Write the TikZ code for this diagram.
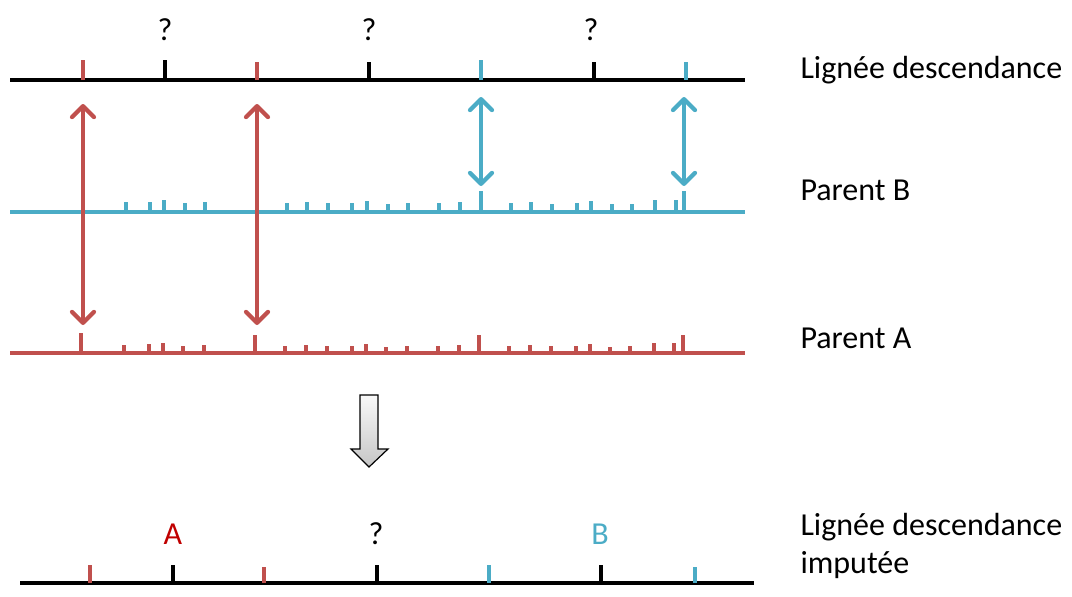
\documentclass[tikz,border=0pt]{standalone}
\usepackage{fontspec}
\setmainfont{Carlito}
\usetikzlibrary{arrows.meta, positioning}
\definecolor{redA}{HTML}{C0504D}
\definecolor{blueB}{HTML}{4BACC6}
\definecolor{darkred}{HTML}{C00000}

\begin{document}
\begin{tikzpicture}[
        x=1pt, y=-1pt,
        every node/.style={font=\fontsize{32}{38}\selectfont},
        chrom/.style={line width=3.8pt},
        tick/.style={line width=4.5pt},
        label/.style={anchor=west, align=left},
        letter/.style={inner sep=0pt},
        pair/.style={line width=4.2pt, {Straight Barb[length=11pt,width=22pt,round]}-{Straight Barb[length=11pt,width=22pt,round]}}
    ]
    \useasboundingbox (0,0) rectangle (1072,597);

    % descendant line
    \coordinate (lig_l) at (10,80);
    \coordinate (lig_r) at (745,80);
    \draw[chrom] (lig_l) -- (lig_r);
    \foreach \x/\h/\c in {83/20/redA, 165/20/black, 257/18/redA, 369/18/black, 481/20/blueB, 594/18/black, 686/18/blueB}
        \draw[tick, \c] (\x,80) -- ++(0,-\h);
    \node[letter] (q1) at (165,30) {?};
    \node[letter] (q2) at (369,30) {?};
    \node[letter] (q3) at (591,30) {?};
    \node[label] (lig) at (797,70) {Lignée descendance};

    % parent B
    \coordinate (pb_l) at (10,212);
    \coordinate (pb_r) at (745,212);
    \draw[chrom, blueB] (pb_l) -- (pb_r);
    \foreach \x/\h in {83/22, 126/10, 150/10, 164/12, 185/9, 205/10, 257/20, 287/9, 307/10, 328/9, 352/9, 367/11, 388/8, 408/9, 439/9, 460/10, 481/21, 511/9, 531/10, 552/8, 577/9, 591/11, 612/8, 632/8, 655/12, 676/12, 684/21}
        \draw[tick, blueB] (\x,212) -- ++(0,-\h);
    \node[label] (parentB) at (797,190) {Parent B};

    % parent A
    \coordinate (pa_l) at (10,353);
    \coordinate (pa_r) at (745,353);
    \draw[chrom, redA] (pa_l) -- (pa_r);
    \foreach \x/\h in {81/20, 124/8, 149/9, 163/10, 183/7, 204/8, 255/18, 285/7, 306/8, 327/7, 352/7, 366/9, 386/6, 407/7, 438/7, 459/8, 479/18, 509/7, 530/8, 551/7, 576/7, 590/9, 610/6, 630/7, 654/10, 674/10, 683/18}
        \draw[tick, redA] (\x,353) -- ++(0,-\h);
    \node[label] (parentA) at (797,338) {Parent A};

    % correspondences
    \coordinate (r1t) at (83,104);
    \coordinate (r1b) at (83,325);
    \coordinate (r2t) at (257,104);
    \coordinate (r2b) at (257,325);
    \coordinate (b1t) at (481,97);
    \coordinate (b1b) at (481,186);
    \coordinate (b2t) at (684,97);
    \coordinate (b2b) at (684,186);
    \draw[pair, redA] (r1t) -- (r1b);
    \draw[pair, redA] (r2t) -- (r2b);
    \draw[pair, blueB] (b1t) -- (b1b);
    \draw[pair, blueB] (b2t) -- (b2b);

    % imputation arrow
    \draw[line width=1.2pt, top color=gray!5, bottom color=gray!45, line join=miter]
        (360,395) -- (378,395) -- (378,449) -- (388,449) -- (369,467)
        -- (351,449) -- (360,449) -- cycle;

    % imputed line
    \coordinate (imp_l) at (20,583);
    \coordinate (imp_r) at (754,583);
    \draw[chrom] (imp_l) -- (imp_r);
    \foreach \x/\h/\c in {90/18/redA, 173/18/black, 264/16/redA, 377/18/black, 489/18/blueB, 601/18/black, 695/16/blueB}
        \draw[tick, \c] (\x,583) -- ++(0,-\h);
    \node[letter, darkred] (resA) at (173,534) {A};
    \node[letter] (resQ) at (376,534) {?};
    \node[letter, blueB] (resB) at (600,534) {B};
    \node[label] (imp) at (797,546) {Lignée descendance\\imputée};
\end{tikzpicture}
\end{document}
